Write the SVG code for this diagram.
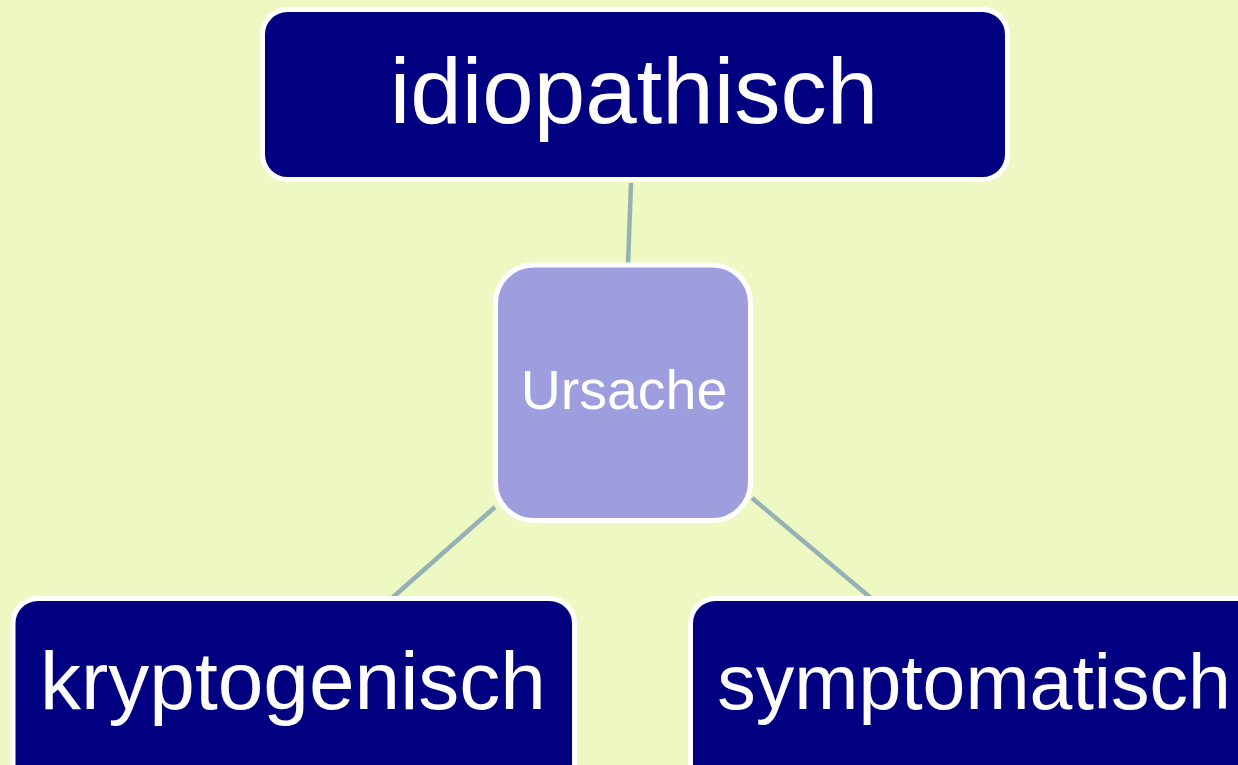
<svg xmlns="http://www.w3.org/2000/svg" width="1238" height="765" viewBox="0 0 1238 765">
  <style>
    .dark { fill: #000080; stroke: #FFFFFF; stroke-width: 5; }
    .center { fill: #9E9EDE; stroke: #FFFFFF; stroke-width: 5; }
    .label { fill: #FFFFFF; font-family: "Liberation Sans", Arial, sans-serif; text-anchor: middle; }
    .conn { stroke: #94B2B4; stroke-width: 4.5; fill: none; }
  </style>
  <rect x="0" y="0" width="1238" height="765" fill="#EEF8C2"/>
  <g id="connectors">
    <line class="conn" x1="631" y1="183" x2="628" y2="265"/>
    <line class="conn" x1="495" y1="507" x2="392" y2="598"/>
    <line class="conn" x1="752" y1="498" x2="871" y2="598"/>
  </g>
  <g id="node-idiopathisch">
    <rect class="dark" x="262.5" y="9.5" width="745" height="170" rx="25" ry="25"/>
    <text class="label" x="634" y="123" font-size="92.5">idiopathisch</text>
  </g>
  <g id="node-ursache">
    <rect class="center" x="495.5" y="265" width="255" height="255.5" rx="38" ry="38"/>
    <text class="label" x="624" y="409" font-size="55.5">Ursache</text>
  </g>
  <g id="node-kryptogenisch">
    <rect class="dark" x="13" y="598.5" width="561.5" height="200" rx="25" ry="25"/>
    <text class="label" x="293" y="709" font-size="82">kryptogenisch</text>
  </g>
  <g id="node-symptomatisch">
    <rect class="dark" x="690.5" y="598.5" width="580" height="200" rx="25" ry="25"/>
    <text class="label" x="974" y="709" font-size="77">symptomatisch</text>
  </g>
</svg>
